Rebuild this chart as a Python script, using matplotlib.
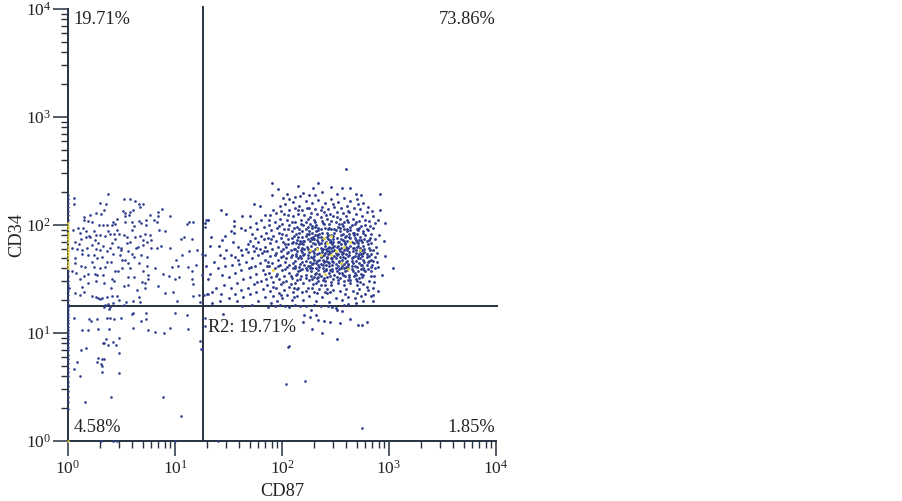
import numpy as np
import matplotlib
matplotlib.use("Agg")
import matplotlib.pyplot as plt
from matplotlib.ticker import NullFormatter

plt.rcParams['font.family'] = ['Liberation Serif', 'DejaVu Serif']
plt.rcParams['mathtext.fontset'] = 'custom'
plt.rcParams['mathtext.rm'] = 'Liberation Serif'

X_LABEL = "CD87"
Y_LABEL = "CD34"
TICK_EXPONENTS = [0, 1, 2, 3, 4]
GATE_X = 18.3
GATE_Y = 17.8
QUADRANT_LABELS = ["19.71%", "73.86%", "4.58%", "1.85%"]
REGION_LABEL = "R2: 19.71%"

# Events, as (log10 CD87, log10 CD34)
upper_left = [
(.06,2.25),(.06,2.19),(.37,2.29),(.3,2.2),(.355,2.19),(.52,2.24),(.58,2.24),(.63,2.22),(.66,2.19),(.7,2.19),(.67,2.17),
(.34,2.14),(.26,2.11),(.31,2.10),(.51,2.13),(.53,2.11),(.58,2.12),(.61,2.14),(.57,2.09),(.53,2.08),(.875,2.15),(.84,2.12),
(.77,2.09),(.84,2.08),(.95,2.08),(.21,2.09),(.15,2.07),(.15,2.05),(.19,2.04),(.22,2.03),(.455,2.06),(.42,2.03),(.53,2.03),
(.6,2.03),(.66,2.04),(.68,2.015),(.73,2.05),(.73,2.0),(.8,2.05),(.83,2.03),(1.11,2.01),(1.13,2.03),(1.17,2.03),(1.29,2.05),
(1.31,2.05),(1.28,1.985),(.29,2.0),(.33,2.0),(.36,2.0),(.44,2.01),(.41,2.0),(.05,1.95),(.095,1.97),(.14,1.975),(.11,1.93),
(.17,1.94),(.24,1.94),(.065,1.84),(.12,1.87),(.17,1.89),(.205,1.885),(.26,1.91),(.3,1.91),(.25,1.86),(.37,1.945),(.39,1.92),
(.43,1.92),(.48,1.92),(.52,1.91),(.55,1.89),(.63,1.89),(.67,1.9),(.72,1.92),(.77,1.91),(.85,1.955),(.91,1.94),(.7,1.86),
(.74,1.845),(.78,1.86),(1.08,1.89),(1.06,1.87),(1.16,1.875),(.41,1.83),(.55,1.83),(.58,1.84),(.65,1.8),(.7,1.815),(.035,1.785),
(.08,1.78),(.13,1.77),(.175,1.785),(.22,1.815),(.33,1.805),(.3,1.77),(.39,1.79),(.495,1.79),(.495,1.77),(.64,1.785),(.78,1.79),
(.83,1.79),(.87,1.805),(.95,1.785),(1.21,1.77),(1.13,1.755),(1.07,1.72),(.24,1.72),(.27,1.69),(.315,1.705),(.42,1.735),(.485,1.72),
(.595,1.735),(.53,1.675),(.5,1.675),(.36,1.66),(.065,1.69),(.13,1.73),(1.25,1.73),(1.28,1.72),(1.01,1.675),(.065,1.645),(.16,1.615),
(.25,1.55),(.035,1.57),(.075,1.56),(.24,1.61),(.345,1.615),(.33,1.54),(.27,1.54),(.19,1.545),(.44,1.57),(.47,1.57),(.565,1.645),
(.66,1.645),(.735,1.62),(.81,1.6),(.705,1.57),(.75,1.54),(.97,1.615),(1.03,1.62),(1.125,1.615),(1.195,1.63),(1.155,1.575),(.89,1.545),
(.94,1.53),(1.0,1.5),(1.04,1.52),(1.255,1.535),(.565,1.52),(.62,1.52),(.11,1.5),(.41,1.5),(.43,1.485),(.69,1.475),(.75,1.5),(1.155,1.5),
(.01,1.42),(.19,1.46),(.26,1.485),(.135,1.43),(.52,1.435),(.565,1.445),(.645,1.4),(.72,1.46),(.72,1.42),(.845,1.435),(.905,1.375),
(.985,1.38),(1.17,1.455),(.145,1.38),(.07,1.375),(.11,1.35),(.22,1.345),(.26,1.335),(.3,1.315),(.32,1.32),(.28,1.32),(.36,1.335),
(.41,1.345),(.455,1.345),(.48,1.305),(.54,1.29),(.61,1.295),(.665,1.33),(.67,1.29),(1.015,1.3),(1.17,1.34),(1.22,1.35),(1.23,1.29),
(1.27,1.35),(1.31,1.36),(.335,1.245),(.37,1.27),(.39,1.245),(.385,1.22),(.52,1.26),(.42,1.28),(.35,1.26),(.2,1.9),(.1,1.82),
(.28,1.83),(.36,1.76),(.44,1.87),(.47,1.8),(.6,1.95),(.62,1.99),(.56,1.76),(.68,1.72),(.74,1.7),(.58,1.6),(.5,1.6),(.4,1.66),(.22,1.66),
(.3,1.6),(.15,1.53),(.34,1.46),(.4,1.42),(.62,1.7),(.46,1.95),(.35,1.9),(.26,1.78),(.19,1.72),(.12,1.62),
]
lower_left = [
(.06,1.136),(.196,1.127),(.212,1.114),(.274,1.127),(.361,1.136),(.393,1.136),(.43,1.127),(.492,1.136),(.595,1.176),(.604,1.182),
(.726,1.188),(.726,1.127),(.679,1.114),(1.0,1.188),(1.109,1.164),(.134,1.028),(.184,1.028),(.283,1.037),(.383,1.037),(.604,1.049),
(.751,1.028),(.813,1.012),(.9,1.003),(.95,1.049),(1.125,1.037),(.48,.951),(.355,.941),(.324,.904),(.336,.904),(.371,.889),(.417,.914),
(.445,.889),(.121,.84),(.171,.864),(.48,.818),(.283,.765),(.315,.756),(.333,.756),(.274,.731),(.087,.728),(.308,.713),(.318,.694),
(.059,.667),(.321,.642),(.48,.63),(.112,.605),(.405,.407),(.891,.407),(.162,.358),(1.059,.235),(1.234,.929),(1.246,.855),(1.255,.849),
(1.28,1.136),(1.28,1.065),(.305,0),(.455,0),(1.0,0),(1.405,0),(.42,0),
]
lone_right = [(2.059,.873),(2.037,.531),(2.215,.556),(2.75,.12),(2.065,.88)]
edge_column = [.3,.36,.41,.46,.51,.55,.6,.64,.68,.72,.76,.8,.84,.87,.91,.94,.97,1.0,1.03,1.06,1.09,1.12,1.15,1.18,1.21,1.24,
1.27,1.31,1.35,1.39,1.44,1.48,1.53,1.57,2.05,2.09,2.13,2.17,2.2,2.24,2.28]
edge_column_hot = [1.6,1.63,1.66,1.69,1.72,1.75,1.78,1.81,1.84,1.87,1.9,1.93,1.96,1.99,2.02]

right_cluster = [
(2.6,2.52),(1.91,2.39),(1.96,2.33),(2.15,2.36),(2.34,2.39),(2.29,2.34),(2.37,2.31),(2.46,2.35),(2.56,2.34),(2.64,2.34),(1.91,2.28),(2.05,2.29),
(2.2,2.3),(2.17,2.27),(2.25,2.28),(2.31,2.28),(2.51,2.29),(2.69,2.29),(2.74,2.28),(2.92,2.29),(2.01,2.25),(2.07,2.24),(2.12,2.26),(1.74,2.19),
(1.79,2.18),(1.43,2.14),(1.48,2.1),(1.63,2.08),(1.7,2.08),(1.92,2.14),(2.92,2.14),(2.96,2.02),(2.9,2.05),(2.91,1.91),(2.95,1.85),(2.96,1.71),
(3.04,1.6),(2.9,1.61),(2.93,1.54),(2.9,1.39),(2.85,1.35),(2.85,1.3),(1.31,2.05),(1.28,2.02),(1.55,2.04),(1.55,1.99),(1.62,1.97),(1.65,1.95),
(1.52,1.94),(1.55,1.93),(1.34,1.89),(1.47,1.9),(1.44,1.86),(1.41,1.81),(1.33,1.81),(1.48,1.77),(1.59,1.8),(1.62,1.77),(1.45,1.18),(2.21,1.17),
(2.27,1.21),(2.26,1.15),(2.32,1.17),(2.34,1.12),(2.39,1.11),(2.45,1.10),(2.54,1.09),(2.64,1.13),(2.71,1.07),(2.79,1.1),(2.75,1.07),(2.2,1.1),
(2.28,1.04),(2.37,1.0),(2.51,.945),(2.51,1.21),(2.56,1.2),(2.5,1.23),(1.42,1.72),(1.46,1.69),(1.52,1.72),(1.56,1.7),(1.63,1.72),(1.68,1.75),
(1.36,1.66),(1.4,1.6),(1.47,1.62),(1.53,1.63),(1.6,1.64),(1.66,1.66),(1.72,1.69),(1.78,1.72),(1.33,1.55),(1.29,1.62),(1.31,1.5),(1.44,1.54),
(1.5,1.52),(1.56,1.56),(1.62,1.58),(1.69,1.6),(1.75,1.62),(1.38,1.42),(1.46,1.44),(1.52,1.42),(1.58,1.46),(1.64,1.5),(1.7,1.52),(1.76,1.55),
(1.3,1.36),(1.35,1.38),(1.43,1.36),(1.5,1.32),(1.56,1.36),(1.62,1.4),(1.68,1.42),(1.74,1.45),(1.8,1.48),(1.35,1.28),(1.42,1.3),(1.58,1.3),
(1.64,1.33),(1.7,1.36),(1.76,1.38),(1.82,1.41),(1.63,1.25),(1.72,1.26),(1.78,1.3),(1.84,1.33),(1.9,1.28),(1.87,1.24),(1.93,1.25),(1.98,1.26),
(2.03,1.25),(2.07,1.24),(2.12,1.26),(2.17,1.25),(2.22,1.25),(2.3,1.26),(2.36,1.25),(2.43,1.25),(2.47,1.24),(2.58,1.26),(2.62,1.27),(2.69,1.28),
(2.76,1.3),(2.83,1.34),(1.7,1.98),(1.76,2.02),(1.8,2.05),(1.84,2.09),(1.88,2.05),(1.94,2.11),(1.99,2.13),(2.03,2.19),(2.1,2.21),(2.16,2.18),
(2.22,2.22),(2.28,2.2),(2.34,2.23),(2.4,2.2),(2.46,2.24),(2.52,2.21),(2.58,2.25),(2.64,2.22),(2.7,2.24),(2.76,2.2),(2.8,2.17),(2.84,2.13),
(1.72,1.92),(1.77,1.96),(1.83,1.98),(1.88,2.0),(1.93,2.03),(1.98,2.06),(2.02,2.1),(2.07,2.14),(2.12,2.16),(2.19,2.14),(2.25,2.16),(2.31,2.15),
(2.37,2.17),(2.43,2.15),(2.49,2.17),(2.55,2.16),(2.61,2.18),(2.67,2.16),(2.73,2.15),(2.79,2.12),(2.85,2.08),(2.87,2.02),(1.7,1.85),(1.75,1.88),
(1.8,1.9),(1.85,1.93),(1.9,1.95),(1.95,1.97),(2.0,2.01),(2.05,2.05),(2.1,2.08),(2.15,2.1),(2.21,2.09),(2.27,2.11),(2.33,2.1),(2.39,2.12),
(2.45,2.1),(2.51,2.12),(2.57,2.11),(2.63,2.12),(2.69,2.1),(2.75,2.08),(2.81,2.04),(2.85,1.97),(1.68,1.82),(1.73,1.81),(1.78,1.84),(1.83,1.87),
(1.87,1.88),(1.92,1.9),(1.97,1.93),(2.02,1.96),(2.07,2.0),(2.12,2.03),(2.18,2.05),(2.24,2.06),(2.3,2.05),(2.36,2.07),(2.42,2.06),(2.48,2.08),
(2.54,2.06),(2.6,2.08),(2.66,2.06),(2.72,2.04),(2.78,2.0),(2.83,1.92),(1.74,1.76),(1.79,1.78),(1.84,1.8),(1.89,1.83),(1.94,1.85),(1.99,1.88),
(2.04,1.91),(2.09,1.94),(2.14,1.98),(2.2,2.0),(2.26,2.01),(2.32,2.0),(2.38,2.02),(2.44,2.01),(2.5,2.03),(2.56,2.01),(2.62,2.03),(2.68,2.01),
(2.74,1.99),(2.8,1.95),(2.87,1.87),(1.81,1.74),(1.86,1.76),(1.91,1.78),(1.96,1.8),(2.01,1.84),(2.06,1.87),(2.11,1.9),(2.16,1.93),(2.22,1.96),
(2.28,1.97),(2.34,1.95),(2.4,1.97),(2.46,1.96),(2.52,1.98),(2.58,1.96),(2.64,1.98),(2.7,1.96),(2.76,1.94),(2.82,1.88),(2.88,1.8),(1.84,1.68),
(1.89,1.71),(1.94,1.74),(1.99,1.76),(2.04,1.8),(2.09,1.83),(2.14,1.86),(2.19,1.89),(2.25,1.92),(2.31,1.91),(2.37,1.93),(2.43,1.91),(2.49,1.93),
(2.55,1.91),(2.61,1.94),(2.67,1.91),(2.73,1.89),(2.79,1.85),(2.85,1.77),(1.86,1.62),(1.91,1.65),(1.96,1.68),(2.01,1.71),(2.06,1.75),(2.11,1.78),
(2.16,1.82),(2.21,1.85),(2.27,1.88),(2.33,1.86),(2.39,1.88),(2.45,1.86),(2.51,1.88),(2.57,1.86),(2.63,1.89),(2.69,1.86),(2.75,1.84),(2.81,1.79),
(2.87,1.7),(1.82,1.58),(1.88,1.56),(1.93,1.6),(1.98,1.63),(2.03,1.66),(2.08,1.7),(2.13,1.73),(2.18,1.77),(2.23,1.8),(2.29,1.83),(2.35,1.82),
(2.41,1.84),(2.47,1.82),(2.53,1.84),(2.59,1.82),(2.65,1.84),(2.71,1.81),(2.77,1.78),(2.83,1.73),(2.89,1.66),(1.85,1.5),(1.9,1.52),(1.95,1.55),
(2.0,1.58),(2.05,1.61),(2.1,1.65),(2.15,1.69),(2.2,1.72),(2.25,1.75),(2.31,1.78),(2.37,1.77),(2.43,1.79),(2.49,1.77),(2.55,1.79),(2.61,1.77),
(2.67,1.79),(2.73,1.76),(2.79,1.73),(2.85,1.67),(1.86,1.44),(1.92,1.47),(1.97,1.5),(2.02,1.53),(2.07,1.56),(2.12,1.6),(2.17,1.64),(2.22,1.67),
(2.27,1.7),(2.33,1.73),(2.39,1.72),(2.45,1.74),(2.51,1.72),(2.57,1.74),(2.63,1.72),(2.69,1.74),(2.75,1.71),(2.81,1.67),(2.87,1.6),(1.89,1.39),
(1.94,1.42),(1.99,1.45),(2.04,1.48),(2.09,1.51),(2.14,1.55),(2.19,1.59),(2.24,1.62),(2.29,1.65),(2.35,1.68),(2.41,1.67),(2.47,1.69),(2.53,1.67),
(2.59,1.69),(2.65,1.67),(2.71,1.69),(2.77,1.66),(2.83,1.61),(1.92,1.34),(1.97,1.37),(2.02,1.4),(2.07,1.43),(2.12,1.46),(2.17,1.5),(2.22,1.54),
(2.27,1.57),(2.32,1.6),(2.38,1.63),(2.44,1.62),(2.5,1.64),(2.56,1.62),(2.62,1.64),(2.68,1.62),(2.74,1.63),(2.8,1.59),(2.86,1.53),(1.95,1.3),
(2.0,1.32),(2.05,1.35),(2.1,1.38),(2.15,1.42),(2.2,1.46),(2.25,1.49),(2.3,1.52),(2.35,1.55),(2.41,1.58),(2.47,1.57),(2.53,1.59),(2.59,1.57),
(2.65,1.59),(2.71,1.57),(2.77,1.58),(2.83,1.53),(2.09,1.31),(2.14,1.34),(2.19,1.38),(2.24,1.42),(2.29,1.45),(2.34,1.48),(2.39,1.51),(2.45,1.53),
(2.51,1.52),(2.57,1.54),(2.63,1.52),(2.69,1.54),(2.75,1.52),(2.81,1.48),(2.85,1.42),(2.2,1.31),(2.25,1.34),(2.3,1.38),(2.35,1.41),(2.4,1.44),
(2.46,1.47),(2.52,1.46),(2.58,1.48),(2.64,1.46),(2.7,1.48),(2.76,1.45),(2.8,1.4),(2.32,1.3),(2.37,1.33),(2.42,1.37),(2.48,1.4),(2.54,1.39),
(2.6,1.41),(2.66,1.39),(2.72,1.41),(2.78,1.36),(2.44,1.29),(2.5,1.32),(2.56,1.31),(2.62,1.33),(2.68,1.32),(2.74,1.34),
(2.14,1.76),(2.2,1.82),(2.26,1.85),(2.28,1.93),(2.34,1.97),(2.36,1.89),(2.42,1.93),(2.48,1.9),(2.54,1.94),(2.6,1.9),(2.66,1.93),(2.72,1.86),
(2.3,1.74),(2.36,1.79),(2.42,1.76),(2.48,1.8),(2.54,1.76),(2.6,1.8),(2.66,1.76),(2.7,1.8),(2.76,1.74),(2.24,1.72),(2.3,1.68),(2.36,1.64),(2.42,1.7),
(2.48,1.66),(2.54,1.7),(2.6,1.66),(2.66,1.7),(2.72,1.65),(2.76,1.6),(2.26,1.6),(2.32,1.56),(2.38,1.6),(2.44,1.56),(2.5,1.6),(2.56,1.56),(2.62,1.6),
(2.68,1.56),(2.74,1.55),(2.28,1.5),(2.34,1.52),(2.4,1.48),(2.46,1.44),(2.52,1.49),(2.58,1.44),(2.64,1.49),(2.7,1.44),(2.36,1.44),(2.42,1.41),
(2.22,1.9),(2.28,1.87),(2.34,1.84),(2.4,1.81),(2.46,1.84),(2.52,1.81),(2.58,1.85),(2.64,1.81),(2.7,1.84),(2.76,1.81),(2.18,1.83),(2.24,1.78),
]
cluster_core = [
(2.13,1.83),(2.37,1.71),(2.61,1.58),(2.19,1.94),(2.48,1.87),(2.72,1.73),(2.26,1.62),(2.53,1.78),(2.84,1.63),(2.33,1.91),(2.09,1.72),(2.57,1.99),
(2.41,1.63),(2.67,1.83),(2.22,1.51),(2.78,1.91),(2.04,1.69),(2.49,1.54),(2.31,2.03),(2.62,1.71),(2.16,1.61),(2.44,1.97),(2.74,1.59),(2.27,1.81),
(2.55,1.65),(2.11,1.97),(2.38,1.49),(2.69,2.03),(2.21,1.73),(2.51,2.07),(2.82,1.77),(2.34,1.58),(2.63,1.92),(2.07,1.63),(2.46,1.79),(2.73,1.47),
(2.18,2.01),(2.59,1.53),(2.29,1.69),(2.41,2.09),(2.76,1.68),(2.13,1.54),(2.52,1.84),(2.36,1.96),(2.65,1.62),(2.24,1.87),(2.83,1.83),(2.47,1.59),
(2.01,1.78),(2.58,1.77),(2.32,1.46),(2.71,1.95),(2.17,1.71),(2.43,1.87),(2.61,2.05),(2.28,1.99),(2.54,1.51),(2.79,1.63),(2.09,1.88),(2.39,1.66),
(2.67,1.53),(2.21,1.63),(2.49,1.96),(2.33,1.79),(2.74,1.86),(2.12,1.67),(2.56,1.73),(2.42,1.52),(2.64,1.95),(2.26,2.07),(2.81,1.71),(2.37,1.86),
(2.03,1.59),(2.5,1.69),(2.69,1.67),(2.19,1.79),(2.44,1.65),(2.59,1.89),(2.31,1.55),(2.76,1.54),(2.15,1.89),(2.53,2.01),(2.35,1.74),(2.66,1.79),
(2.23,1.58),(2.47,1.76),(2.72,1.97),(2.08,1.77),(2.39,2.01),(2.62,1.49),(2.29,1.76),(2.55,1.87),(2.8,1.82),(2.17,1.58),(2.43,1.73),(2.7,1.61),
(2.34,1.63),(2.58,1.6),(2.13,1.92),(2.46,2.04),(2.25,1.94),(2.77,1.75),(2.36,1.53),(2.63,1.75),(2.19,1.66),(2.51,1.8),(2.83,1.57),(2.3,1.87),
(2.06,1.82),(2.41,1.78),(2.68,1.88),(2.22,2.03),(2.56,1.68),(2.73,1.79),(2.38,1.68),(2.61,1.85),(2.14,1.49),(2.47,1.63),(2.32,1.94),(2.79,1.96),
(2.53,1.56),(2.26,1.76),(2.65,2.0),(2.42,1.89),(2.1,1.6),(2.59,1.79),(2.35,1.61),(2.71,1.71),(2.2,1.85),(2.49,1.71),(2.75,1.63),(2.28,1.64),
(2.57,1.92),(2.4,1.74),(2.66,1.65),(2.12,1.78),(2.45,1.58),(2.31,1.82),(2.62,1.63),(2.83,1.68),(2.24,1.69),(2.52,1.62),(2.37,2.04),(2.69,1.77),
(2.16,1.96),(2.48,1.84),(2.77,1.87),(2.33,1.67),(2.6,1.73),(2.05,1.74),(2.43,1.96),(2.72,1.51),(2.27,1.53),(2.55,1.82),(2.39,1.57),(2.64,1.88),
(2.18,1.53),(2.5,1.95),(2.8,1.66),(2.36,1.83),(2.58,1.64),(2.23,1.92),(2.46,1.69),(2.7,1.92),(2.13,1.71),(2.41,1.59),(2.66,1.57),(2.3,1.71),
(2.54,1.97),(2.75,1.77),(2.19,1.75),(2.44,1.8),(2.61,1.96),(2.34,1.89),(2.08,1.53),(2.52,1.73),(2.78,1.57),(2.26,1.66),(2.48,1.5),(2.68,1.71),
(2.37,1.75),(2.15,1.57),(2.57,1.7),(2.31,1.98),(2.73,1.69),(2.43,1.66),(2.62,1.79),(2.21,1.78),(2.51,1.57),(2.81,1.86),(2.35,1.92),(2.59,1.83),
(2.1,1.84),(2.46,1.91),(2.71,1.83),(2.28,1.6),(2.55,1.6),(2.4,1.83),(2.65,1.69),(2.18,1.69),(2.49,1.81),(2.76,1.93),(2.33,1.51),(2.6,1.61),
(1.99,1.7),(2.42,1.69),(2.69,1.5),(2.24,1.98),(2.53,1.66),(2.38,1.78),(2.63,1.54),(2.15,1.8),(2.47,1.67),(2.74,1.73),(2.29,1.89),(2.56,1.75),
(2.12,1.62),(2.44,1.76),(2.67,1.93),(2.36,1.7),(2.58,2.03),(2.22,1.6),(2.5,1.74),(2.79,1.7),(2.32,1.65),(2.61,1.67),(2.17,1.85),(2.45,1.84),
(1.96,1.62),(2.03,1.82),(2.0,1.92),(1.93,1.72),(1.87,1.66),(1.79,1.65),(1.83,1.76),(1.9,1.87),(1.97,1.99),(2.06,1.96),(2.06,2.09),(2.01,1.47),
(1.94,1.53),(2.08,1.45),(2.14,1.41),(1.88,1.62),(1.76,1.79),(1.71,1.61),(1.66,1.78),(1.59,1.68),(1.54,1.84),(1.77,1.47),(1.84,1.55),(1.99,1.35),
(2.11,1.33),(2.22,1.39),(2.33,1.37),(2.45,1.38),(2.59,1.36),(2.7,1.37),(2.23,2.16),(2.36,2.14),(2.48,2.19),(2.62,2.13),(2.71,2.19),(1.98,2.18),
(2.15,2.14),(2.09,2.03),(1.89,2.09),(2.78,2.05),(2.82,1.99),(2.89,1.74),(2.86,1.47),(2.79,1.43),(2.4,1.38),(2.28,1.42),(2.11,1.42),(1.92,1.43),
]
hot_points = [(2.46,1.9),(2.39,1.88),(2.26,1.77),(2.36,1.72),(2.46,1.72),(2.55,1.65),(2.62,1.59),(2.4,1.55),(2.64,1.84),(2.73,1.77),(1.92,1.58),
(2.33,1.78),(2.42,1.83),(2.5,1.76),(2.58,1.8)]
stray_hot = [(0.0,0.0)]

fig = plt.figure(figsize=(9.02, 5.01), dpi=100)
ax = fig.add_axes([68/902, 1-441/501, (496-68)/902, (441-9)/501])
ax.set_xscale('log')
ax.set_yscale('log')
ax.set_xlim(1, 1e4)
ax.set_ylim(1, 1e4)

blue = '#2f3e8e'
yellow = '#e6d83a'
def plot_events(points, color, size=3.6, z=2):
    arr = np.array(points)
    ax.scatter(10**arr[:, 0], 10**arr[:, 1], s=size, c=color, linewidths=0, clip_on=False, zorder=z)

plot_events(upper_left, blue)
plot_events(lower_left, blue)
plot_events(lone_right, blue)
plot_events(right_cluster, blue, size=4.2)
plot_events(cluster_core, blue, size=4.2)
plot_events(list(zip([0.0]*len(edge_column), edge_column)), blue, size=3.0)
plot_events(list(zip([0.0]*len(edge_column_hot), edge_column_hot)), yellow, size=3.5, z=3)
plot_events(hot_points, yellow, size=4.5, z=3)
plot_events(stray_hot, yellow, size=3.0, z=3)

ink = '#26323f'
for s in ['top', 'right']:
    ax.spines[s].set_visible(False)
for s in ['left', 'bottom']:
    ax.spines[s].set_color(ink)
    ax.spines[s].set_linewidth(1.4)
    ax.spines[s].set_zorder(1)

ticks = [10.0**e for e in TICK_EXPONENTS]
labels = [rf'$\mathrm{{10^{{{e}}}}}$' for e in TICK_EXPONENTS]
minor = [m * 10.0**e for e in TICK_EXPONENTS[:-1] for m in range(2, 10)]
for axis in (ax.xaxis, ax.yaxis):
    axis.set_ticks(ticks)
    axis.set_ticklabels(labels)
    axis.set_ticks(minor, minor=True)
    axis.set_minor_formatter(NullFormatter())
ax.tick_params(which='major', length=10.5, width=1.1, color=ink, labelsize=12.5, labelcolor='#222222')
ax.tick_params(which='minor', length=5.2, width=1.0, color=ink)
ax.tick_params(axis='x', which='major', pad=3)
ax.tick_params(axis='y', which='major', pad=1.5)

ax.plot([GATE_X, GATE_X], [1, 1.04e4], color=ink, lw=1.4, clip_on=False, zorder=1.5)
ax.plot([1, 1.03e4], [GATE_Y, GATE_Y], color=ink, lw=1.4, clip_on=False, zorder=1.5)

def label_at(px, py, s, ha='left', rotation=0):
    fig.text(px/902, 1-py/501, s, ha=ha, va='center', fontsize=13.2, color='#222222', rotation=rotation)

label_at(73, 20, QUADRANT_LABELS[0])
label_at(495, 20, QUADRANT_LABELS[1], ha='right')
label_at(74, 428, QUADRANT_LABELS[2])
label_at(495, 428, QUADRANT_LABELS[3], ha='right')
label_at(208, 327, REGION_LABEL)
label_at(282, 491, X_LABEL, ha='center')
label_at(17, 235, Y_LABEL, ha='center', rotation=90)

fig.savefig('out.png', dpi=100)
